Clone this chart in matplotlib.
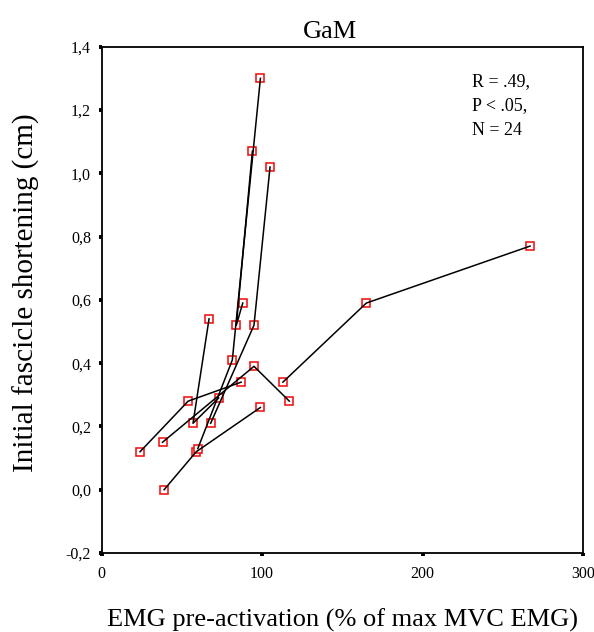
import matplotlib.pyplot as plt
from matplotlib.ticker import FuncFormatter

# EMG pre-activation (% max MVC) and fascicle shortening (cm), one list pair per subject
subj_a_emg = [113, 165, 267]
subj_a_short = [0.34, 0.59, 0.77]
subj_b_emg = [39, 59, 99]
subj_b_short = [0.00, 0.12, 0.26]
subj_c_emg = [24, 54, 87]
subj_c_short = [0.12, 0.28, 0.34]
subj_d_emg = [38, 95, 117]
subj_d_short = [0.15, 0.39, 0.28]
subj_e_emg = [67, 57, 73]
subj_e_short = [0.54, 0.21, 0.29]
subj_f_emg = [68, 95, 105]
subj_f_short = [0.21, 0.52, 1.02]
subj_g_emg = [60, 81.5, 99]
subj_g_short = [0.13, 0.41, 1.30]
subj_h_emg = [88, 84, 94]
subj_h_short = [0.59, 0.52, 1.07]

subjects = [
    (subj_a_emg, subj_a_short),
    (subj_b_emg, subj_b_short),
    (subj_c_emg, subj_c_short),
    (subj_d_emg, subj_d_short),
    (subj_e_emg, subj_e_short),
    (subj_f_emg, subj_f_short),
    (subj_g_emg, subj_g_short),
    (subj_h_emg, subj_h_short),
]

x_ticks = [0, 100, 200, 300]
y_ticks = [-0.2, 0.0, 0.2, 0.4, 0.6, 0.8, 1.0, 1.2, 1.4]
stats_text = "R = .49,\nP < .05,\nN = 24"

plt.rcParams['font.family'] = ['Liberation Serif', 'DejaVu Serif']

fig = plt.figure(figsize=(5.94, 6.32), dpi=100)
ax = fig.add_axes([0.1709, 0.125, 0.8106, 0.801])

for emg, short in subjects:
    ax.plot(emg, short, color='black', linewidth=1.1, zorder=3)
    ax.plot(emg, short, linestyle='none', marker='s', markersize=6.2,
            markerfacecolor='white', markeredgecolor='#f01010',
            markeredgewidth=1.15, zorder=2)

ax.set_xlim(0, 300)
ax.set_ylim(-0.2, 1.4)
ax.set_xticks(x_ticks)
ax.set_yticks(y_ticks)
ax.yaxis.set_major_formatter(FuncFormatter(lambda v, p: f"{v:.1f}".replace('.', ',')))
ax.tick_params(direction='out', length=2.5, width=2.8, labelsize=11.5,
               color='black')
ax.tick_params(axis='x', pad=7)
ax.tick_params(axis='y', pad=5)
for sp in ax.spines.values():
    sp.set_linewidth(1.3)
    sp.set_color('black')

ax.set_title("GaM", fontsize=19, pad=6, x=0.475)
ax.set_xlabel("EMG pre-activation (% of max MVC EMG)", fontsize=19, labelpad=19)
ax.set_ylabel("Initial fascicle shortening (cm)", fontsize=21)
ax.yaxis.set_label_coords(-0.128, 0.515)

ax.text(231, 1.318, stats_text, fontsize=13, va='top', ha='left',
        linespacing=1.6)

fig.savefig("out.png", dpi=100)
